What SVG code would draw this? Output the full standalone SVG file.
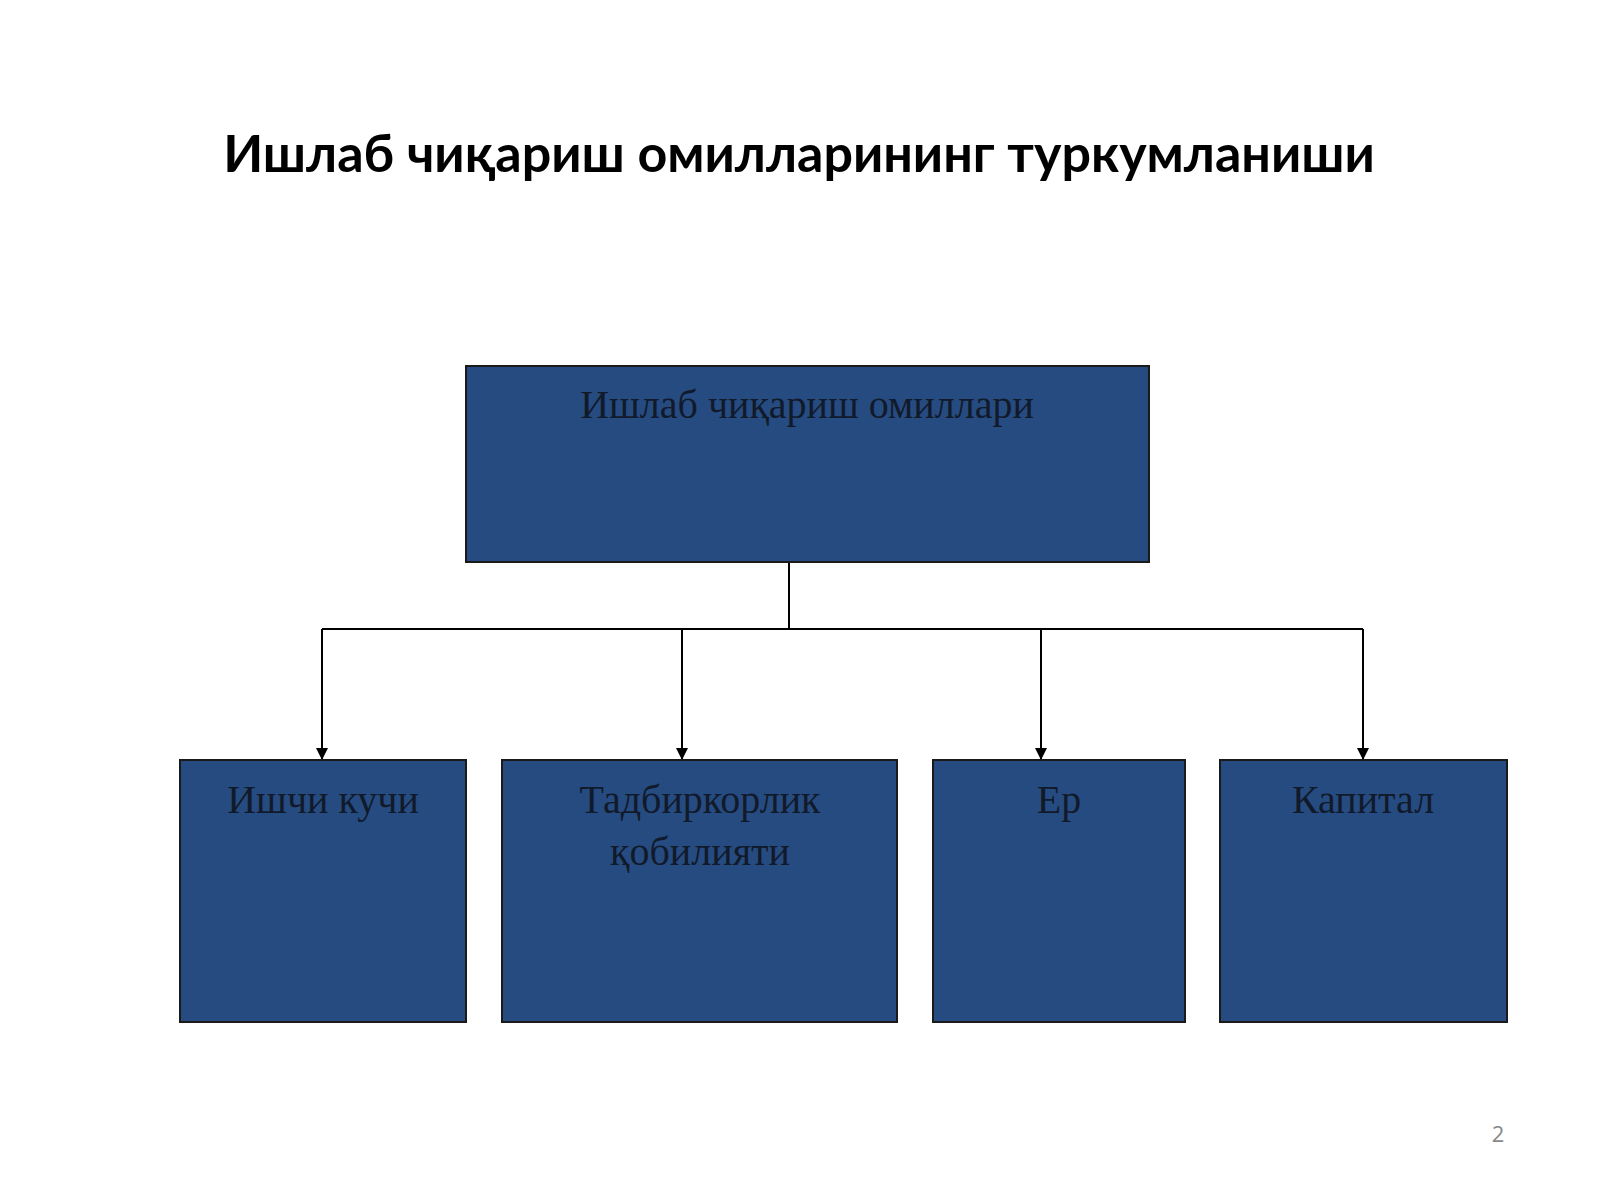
<svg xmlns="http://www.w3.org/2000/svg" width="1600" height="1200" viewBox="0 0 1600 1200">
<defs>
<style>
.box{fill:#264b80;stroke:#1a1a1a;stroke-width:2}
.t{font-family:"Liberation Serif",serif;font-size:40px;fill:#111a2a;text-anchor:middle}
.c{stroke:#000;stroke-width:2;fill:none}
</style>
<marker id="a" viewBox="0 0 10 10" refX="10" refY="5" markerWidth="6" markerHeight="6" orient="auto"><path d="M0,0L10,5L0,10z" fill="#000"/></marker>
</defs>
<rect width="1600" height="1200" fill="#fff"/>
<text x="799" y="172" font-family="Lato,'Open Sans',sans-serif" font-weight="bold" font-size="52" text-anchor="middle" fill="#000">Ишлаб чиқариш омилларининг туркумланиши</text>
<g id="connectors">
<path class="c" d="M789,562V629M322,629H1363"/>
<path class="c" d="M322,629V760" marker-end="url(#a)"/>
<path class="c" d="M682,629V760" marker-end="url(#a)"/>
<path class="c" d="M1041,629V760" marker-end="url(#a)"/>
<path class="c" d="M1363,629V760" marker-end="url(#a)"/>
</g>
<g id="root"><rect class="box" x="466" y="366" width="683" height="196"/><text class="t" x="807" y="418">Ишлаб чиқариш омиллари</text></g>
<g id="n1"><rect class="box" x="180" y="760" width="286" height="262"/><text class="t" x="323" y="813">Ишчи кучи</text></g>
<g id="n2"><rect class="box" x="502" y="760" width="395" height="262"/><text class="t" x="700" y="813">Тадбиркорлик</text><text class="t" x="700" y="865">қобилияти</text></g>
<g id="n3"><rect class="box" x="933" y="760" width="252" height="262"/><text class="t" x="1059" y="813">Ер</text></g>
<g id="n4"><rect class="box" x="1220" y="760" width="287" height="262"/><text class="t" x="1363" y="813">Капитал</text></g>
<text x="1498" y="1142" font-family="'Open Sans',sans-serif" font-size="22" fill="#888" text-anchor="middle">2</text>
</svg>
